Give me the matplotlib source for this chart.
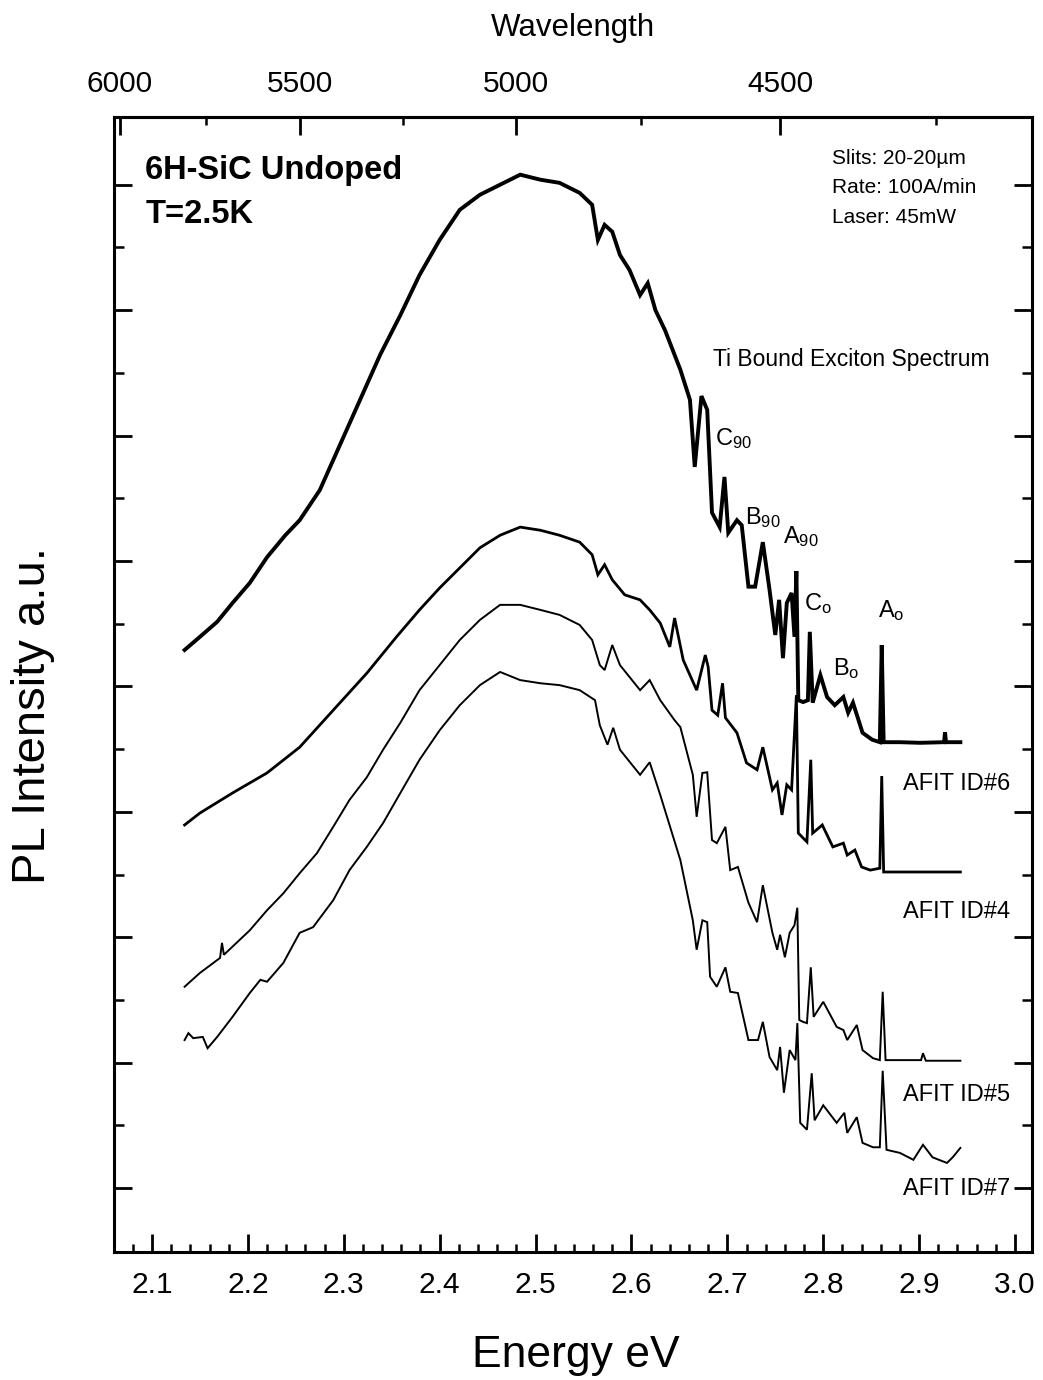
import numpy as np
import matplotlib as mpl
from matplotlib import pyplot as plt
from matplotlib.ticker import FixedLocator, FormatStrFormatter, NullFormatter

# PL spectra of undoped 6H-SiC, stacked with arbitrary offsets (a.u.)
e_id6 = [2.134, 2.150, 2.168, 2.184, 2.202, 2.220, 2.239, 2.254, 2.275, 2.296,
         2.317, 2.338, 2.359, 2.379, 2.400, 2.421, 2.442, 2.463, 2.484, 2.505,
         2.525, 2.546, 2.559, 2.565, 2.572, 2.580, 2.588, 2.598, 2.609, 2.617,
         2.625, 2.635, 2.651, 2.661, 2.666, 2.673, 2.679, 2.684, 2.692, 2.697,
         2.701, 2.710, 2.715, 2.722, 2.729, 2.737, 2.744, 2.750, 2.754, 2.758,
         2.762, 2.767, 2.770, 2.772, 2.774, 2.779, 2.784, 2.786, 2.789, 2.797,
         2.804, 2.812, 2.821, 2.826, 2.831, 2.841, 2.851, 2.859, 2.861, 2.863,
         2.880, 2.901, 2.926, 2.927, 2.928, 2.943]
i_id6 = [8.58, 8.79, 9.03, 9.33, 9.65, 10.06, 10.41, 10.65, 11.13, 11.85,
         12.57, 13.29, 13.92, 14.56, 15.12, 15.60, 15.84, 16.00, 16.16, 16.08,
         16.03, 15.87, 15.68, 15.12, 15.36, 15.25, 14.88, 14.64, 14.24, 14.43,
         14.00, 13.68, 13.05, 12.57, 11.50, 12.63, 12.41, 10.77, 10.54, 11.34,
         10.45, 10.65, 10.57, 9.59, 9.59, 10.30, 9.54, 8.82, 9.38, 8.45,
         9.33, 9.49, 8.79, 9.84, 7.78, 7.75, 7.78, 8.87, 7.74, 8.18,
         7.83, 7.70, 7.83, 7.58, 7.74, 7.26, 7.15, 7.11, 8.66, 7.11,
         7.11, 7.10, 7.11, 7.27, 7.11, 7.11]

e_id4 = [2.134, 2.150, 2.184, 2.220, 2.254, 2.289, 2.324, 2.355, 2.379, 2.400,
         2.421, 2.442, 2.463, 2.484, 2.505, 2.525, 2.546, 2.559, 2.565, 2.572,
         2.580, 2.593, 2.609, 2.619, 2.630, 2.640, 2.645, 2.654, 2.668, 2.677,
         2.680, 2.684, 2.690, 2.695, 2.698, 2.710, 2.720, 2.731, 2.737, 2.747,
         2.752, 2.757, 2.762, 2.767, 2.772, 2.774, 2.783, 2.787, 2.789, 2.799,
         2.810, 2.821, 2.825, 2.833, 2.840, 2.849, 2.859, 2.861, 2.863, 2.901,
         2.943]
i_id4 = [5.79, 5.98, 6.30, 6.62, 7.03, 7.62, 8.21, 8.79, 9.22, 9.57,
         9.89, 10.21, 10.41, 10.54, 10.49, 10.41, 10.30, 10.10, 9.78, 9.94,
         9.70, 9.46, 9.38, 9.22, 9.01, 8.63, 9.09, 8.42, 7.94, 8.50,
         8.31, 7.62, 7.54, 8.05, 7.50, 7.26, 6.78, 6.67, 7.03, 6.35,
         6.46, 5.95, 6.43, 6.35, 7.86, 5.66, 5.52, 6.83, 5.66, 5.79,
         5.44, 5.50, 5.31, 5.39, 5.12, 5.07, 5.10, 6.57, 5.04, 5.04,
         5.04]

e_id5 = [2.134, 2.150, 2.171, 2.173, 2.175, 2.202, 2.220, 2.237, 2.254, 2.272,
         2.289, 2.306, 2.324, 2.341, 2.359, 2.379, 2.400, 2.421, 2.442, 2.463,
         2.484, 2.505, 2.525, 2.546, 2.559, 2.567, 2.572, 2.580, 2.588, 2.609,
         2.619, 2.630, 2.645, 2.651, 2.664, 2.668, 2.674, 2.679, 2.684, 2.689,
         2.698, 2.703, 2.711, 2.722, 2.731, 2.737, 2.747, 2.752, 2.755, 2.760,
         2.765, 2.770, 2.773, 2.775, 2.779, 2.783, 2.787, 2.790, 2.800, 2.814,
         2.821, 2.825, 2.835, 2.841, 2.852, 2.859, 2.862, 2.865, 2.902, 2.904,
         2.907, 2.943]
i_id5 = [3.21, 3.43, 3.67, 3.91, 3.72, 4.11, 4.43, 4.70, 5.02, 5.34,
         5.76, 6.19, 6.55, 6.99, 7.42, 7.94, 8.34, 8.74, 9.06, 9.30,
         9.30, 9.22, 9.14, 8.98, 8.74, 8.34, 8.26, 8.66, 8.34, 7.94,
         8.10, 7.78, 7.46, 7.35, 6.59, 5.92, 6.62, 6.63, 5.55, 5.50,
         5.76, 5.07, 5.12, 4.55, 4.24, 4.83, 4.07, 3.80, 4.04, 3.68,
         4.07, 4.19, 4.47, 2.68, 2.65, 2.63, 3.52, 2.73, 2.97, 2.57,
         2.52, 2.36, 2.60, 2.20, 2.07, 2.04, 3.13, 2.04, 2.04, 2.15,
         2.03, 2.03]

e_id7 = [2.134, 2.138, 2.143, 2.153, 2.158, 2.168, 2.184, 2.202, 2.213, 2.220,
         2.237, 2.254, 2.268, 2.289, 2.306, 2.324, 2.341, 2.359, 2.379, 2.400,
         2.421, 2.442, 2.463, 2.484, 2.505, 2.525, 2.546, 2.562, 2.567, 2.575,
         2.581, 2.588, 2.609, 2.619, 2.630, 2.651, 2.664, 2.668, 2.674, 2.679,
         2.682, 2.689, 2.698, 2.703, 2.711, 2.722, 2.732, 2.737, 2.744, 2.752,
         2.755, 2.759, 2.765, 2.771, 2.773, 2.776, 2.783, 2.788, 2.791, 2.800,
         2.814, 2.822, 2.825, 2.835, 2.841, 2.852, 2.859, 2.862, 2.866, 2.880,
         2.894, 2.904, 2.914, 2.929, 2.935, 2.943]
i_id7 = [2.36, 2.47, 2.39, 2.41, 2.23, 2.41, 2.73, 3.11, 3.32, 3.29,
         3.59, 4.07, 4.16, 4.59, 5.07, 5.44, 5.82, 6.30, 6.83, 7.30,
         7.70, 8.02, 8.23, 8.10, 8.05, 8.02, 7.94, 7.78, 7.38, 7.07,
         7.34, 6.99, 6.59, 6.79, 6.27, 5.23, 4.27, 3.80, 4.27, 4.24,
         3.37, 3.21, 3.52, 3.13, 3.11, 2.36, 2.36, 2.65, 2.09, 1.88,
         2.25, 1.52, 2.20, 2.04, 2.63, 1.04, 0.93, 1.83, 1.08, 1.32,
         1.04, 1.20, 0.88, 1.13, 0.72, 0.65, 0.65, 1.87, 0.61, 0.56,
         0.45, 0.69, 0.49, 0.40, 0.49, 0.64]

spectra = [(e_id6, i_id6, 2.8), (e_id4, i_id4, 2.0), (e_id5, i_id5, 1.4), (e_id7, i_id7, 1.4)]

sample_names = ['AFIT ID#6', 'AFIT ID#4', 'AFIT ID#5', 'AFIT ID#7']
sample_label_y = [6.44, 4.40, 1.49, -0.02]

# Ti bound exciton line labels: (text, energy, intensity)
peak_labels = [(r'$\mathregular{C_{90}}$', 2.687, 11.85),
               (r'$\mathregular{B_{90}}$', 2.718, 10.59),
               (r'$\mathregular{A_{90}}$', 2.758, 10.29),
               (r'$\mathregular{C_{o}}$', 2.780, 9.22),
               (r'$\mathregular{B_{o}}$', 2.810, 8.18),
               (r'$\mathregular{A_{o}}$', 2.857, 9.11)]

wl_major = [6000, 5500, 5000, 4500]
wl_minor = [5750, 5250, 4750, 4250]
HC = 12398.4  # eV * Angstrom

mpl.rcParams['font.family'] = ['Liberation Sans', 'DejaVu Sans']
mpl.rcParams['mathtext.default'] = 'regular'

fig = plt.figure(figsize=(10.43, 13.80), dpi=100)
ax = fig.add_axes([114 / 1043, 128 / 1380, 918 / 1043, 1135 / 1380])

for e, i, lw in spectra:
    ax.plot(e, i, color='black', lw=lw, solid_joinstyle='miter')

ax.set_xlim(2.0604, 3.0177)
ax.set_ylim(-1.02, 17.08)

for sp in ax.spines.values():
    sp.set_linewidth(2.2)

ax.xaxis.set_major_locator(FixedLocator(np.round(np.arange(2.1, 3.01, 0.1), 2)))
ax.xaxis.set_minor_locator(FixedLocator(np.round(np.arange(2.08, 3.001, 0.02), 2)))
ax.xaxis.set_major_formatter(FormatStrFormatter('%.1f'))
ax.yaxis.set_major_locator(FixedLocator(np.arange(0, 17, 2)))
ax.yaxis.set_minor_locator(FixedLocator(np.arange(1, 17, 2)))
ax.yaxis.set_major_formatter(NullFormatter())

ax.tick_params(which='major', direction='in', length=13, width=2.0,
               top=False, right=True, labelsize=21.5, pad=14)
ax.tick_params(which='minor', direction='in', length=6, width=1.8,
               top=False, right=True)
ax.tick_params(axis='y', which='minor', length=7.5)

top = ax.secondary_xaxis('top', functions=(lambda x: HC / x, lambda x: HC / x))
top.set_xticks(wl_major)
top.set_xticks(wl_minor, minor=True)
top.xaxis.set_major_formatter(FormatStrFormatter('%d'))
top.tick_params(which='major', direction='in', length=13, width=2.0,
                labelsize=21.5, pad=14)
top.tick_params(which='minor', direction='in', length=6, width=1.8)
top.spines['top'].set_linewidth(2.2)

fig.text(573 / 1043, 1 - 28 / 1380, 'Wavelength', ha='center', va='center', fontsize=22.5)
fig.text(576 / 1043, 1 - 1355 / 1380, 'Energy eV', ha='center', va='center', fontsize=32)
fig.text(33 / 1043, 1 - 715 / 1380, 'PL Intensity a.u.', ha='center', va='center',
         rotation=90, fontsize=34)

ax.text(2.093, 16.22, '6H-SiC Undoped', fontsize=23.5, fontweight='bold', va='center')
ax.text(2.093, 15.52, 'T=2.5K', fontsize=23.5, fontweight='bold', va='center')

ax.text(2.809, 16.42, 'Slits: 20-20\u00b5m', fontsize=15, va='center')
ax.text(2.809, 15.96, 'Rate: 100A/min', fontsize=15, va='center')
ax.text(2.809, 15.48, 'Laser: 45mW', fontsize=15, va='center')

ax.text(2.685, 13.21, 'Ti Bound Exciton Spectrum', fontsize=16.5, va='center')

for name, y in zip(sample_names, sample_label_y):
    ax.text(2.883, y, name, fontsize=17, va='center')

for txt, e, i in peak_labels:
    ax.text(e, i, txt, fontsize=17, va='baseline')

fig.savefig('out.png', dpi=100)
